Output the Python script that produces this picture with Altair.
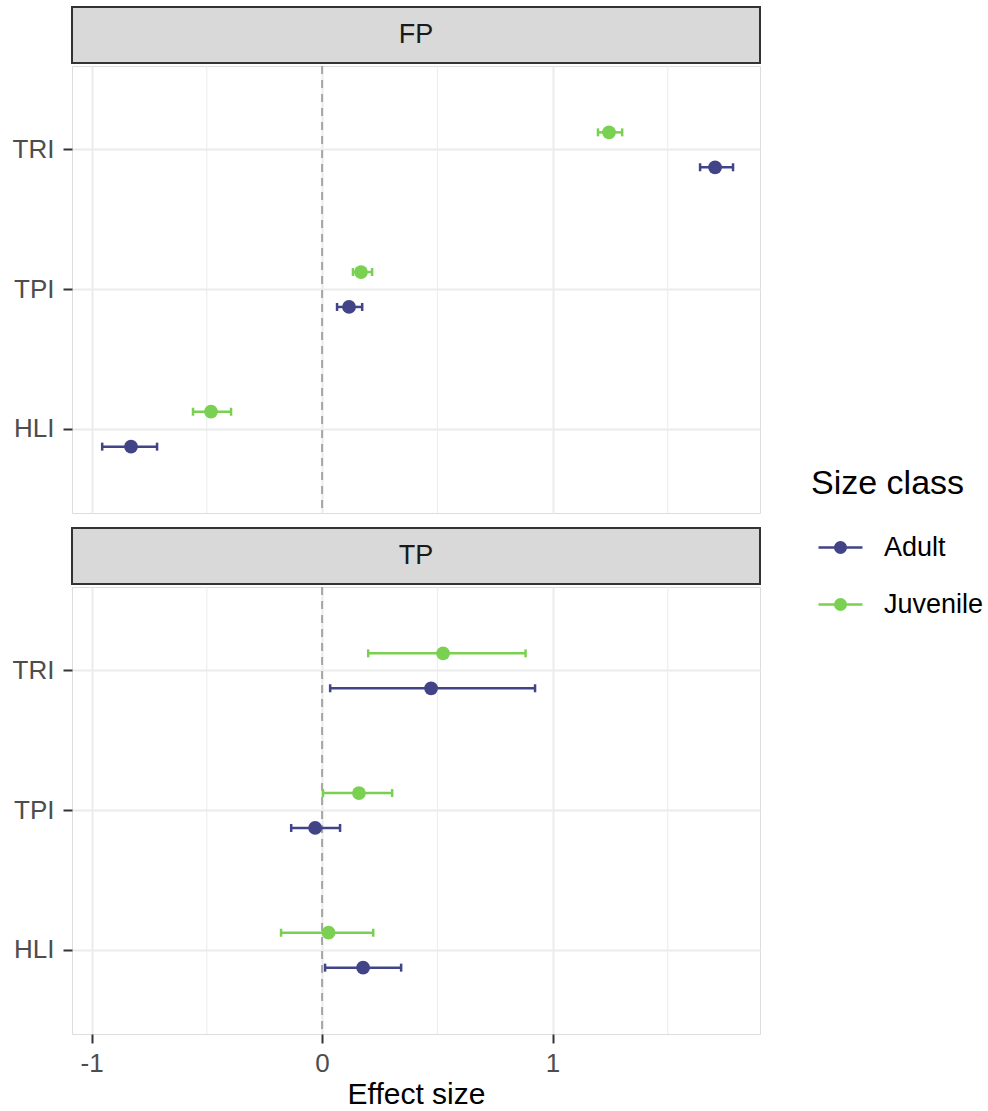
import altair as alt
import pandas as pd

# Effect sizes (with lower / upper interval bounds) per terrain index
indices = ["TRI", "TPI", "HLI"]
size_classes = ["Adult", "Juvenile"]
panels = ["FP", "TP"]

fp_adult_est = [1.705, 0.117, -0.829]
fp_adult_lo = [1.640, 0.065, -0.954]
fp_adult_hi = [1.783, 0.174, -0.716]
fp_juv_est = [1.245, 0.169, -0.482]
fp_juv_lo = [1.197, 0.134, -0.560]
fp_juv_hi = [1.302, 0.217, -0.395]

tp_adult_est = [0.473, -0.030, 0.178]
tp_adult_lo = [0.035, -0.134, 0.013]
tp_adult_hi = [0.924, 0.078, 0.343]
tp_juv_est = [0.525, 0.160, 0.028]
tp_juv_lo = [0.200, 0.004, -0.178]
tp_juv_hi = [0.883, 0.304, 0.222]

major_ticks = [-1, 0, 1]
minor_ticks = [-0.5, 0.5, 1.5]

series = {
    ("FP", "Adult"): (fp_adult_est, fp_adult_lo, fp_adult_hi),
    ("FP", "Juvenile"): (fp_juv_est, fp_juv_lo, fp_juv_hi),
    ("TP", "Adult"): (tp_adult_est, tp_adult_lo, tp_adult_hi),
    ("TP", "Juvenile"): (tp_juv_est, tp_juv_lo, tp_juv_hi),
}
rows = []
for (pan, sc), (est, lo, hi) in series.items():
    for i, idx in enumerate(indices):
        rows.append({"panel": pan, "index": idx, "size": sc,
                     "est": est[i], "lo": lo[i], "hi": hi[i]})
df = pd.DataFrame(rows)

FONT = "Liberation Sans"
PANEL_W = 688
PANEL_H = 447
STRIP_H = 56

x_scale = alt.Scale(domain=[-1.085, 1.9], nice=False, zero=False)
color_scale = alt.Scale(domain=size_classes, range=["#414487", "#7AD151"])

# legend key: horizontal segment with a dot (concentric rings so the dot
# reads as solid when only stroked)
key_path = "M-1,0H1"
for r in [0.04, 0.09, 0.14, 0.19, 0.24]:
    key_path += f"M{r},0A{r},{r} 0 1 1 {-r},0A{r},{r} 0 1 1 {r},0Z"

legend = alt.Legend(
    title="Size class",
    orient="none",
    legendX=739,
    legendY=460,
    titleFontSize=34,
    titleFont=FONT,
    titleFontWeight="normal",
    titleColor="#000000",
    titlePadding=23,
    labelFontSize=27,
    labelFont=FONT,
    labelColor="#000000",
    labelOffset=20,
    symbolType=key_path,
    symbolSize=1936,
    symbolOffset=6,
    symbolStrokeWidth=2.5,
    rowPadding=20,
)
color_leg = alt.Color("size:N", scale=color_scale, legend=legend)
color_noleg = alt.Color("size:N", scale=color_scale, legend=None)


def x_axis(bottom):
    if bottom:
        return alt.Axis(values=major_ticks, grid=True, gridColor="#EBEBEB",
                        gridWidth=2, domain=False, ticks=True, tickSize=9,
                        tickWidth=2, tickColor="#333333", labelFontSize=26,
                        labelFont=FONT, labelColor="#4D4D4D", labelPadding=7,
                        labelExpr="toString(datum.value)",
                        title="Effect size", titleFontSize=30, titleFont=FONT,
                        titleFontWeight="normal", titleColor="#000000",
                        titlePadding=3)
    return alt.Axis(values=major_ticks, grid=True, gridColor="#EBEBEB",
                    gridWidth=2, domain=False, ticks=False, labels=False,
                    title=None)


y_enc = alt.Y(
    "index:N",
    sort=indices,
    scale=alt.Scale(paddingInner=0, paddingOuter=0.1),
    axis=alt.Axis(grid=True, gridColor="#EBEBEB", gridWidth=2, domain=False,
                  tickSize=9, tickWidth=2, tickColor="#333333",
                  labelFontSize=26, labelFont=FONT, labelColor="#4D4D4D",
                  labelPadding=9, minExtent=66, maxExtent=66, title=None),
)
y_off = alt.YOffset(
    "size:N",
    sort=["Juvenile", "Adult"],
    scale=alt.Scale(paddingInner=0, paddingOuter=1),
)


def panel(name, bottom):
    d = df[df["panel"] == name]
    xa = x_axis(bottom)
    minor = alt.Chart(pd.DataFrame({"v": minor_ticks})).mark_rule(
        color="#EBEBEB", strokeWidth=1
    ).encode(x=alt.X("v:Q", scale=x_scale, axis=xa))
    zero = alt.Chart(pd.DataFrame({"v": [0]})).mark_rule(
        color="#A6A6A6", strokeWidth=2, strokeDash=[8, 6]
    ).encode(x=alt.X("v:Q", scale=x_scale, axis=xa))
    bars = alt.Chart(d).mark_rule(strokeWidth=2.5).encode(
        x=alt.X("lo:Q", scale=x_scale, axis=xa), x2="hi:Q",
        y=y_enc, yOffset=y_off, color=color_leg)
    caps = alt.Chart(d).transform_fold(
        ["lo", "hi"], as_=["end", "xv"]
    ).mark_tick(thickness=2.5, size=8, opacity=1).encode(
        x=alt.X("xv:Q", scale=x_scale, axis=xa),
        y=y_enc, yOffset=y_off, color=color_noleg)
    points = alt.Chart(d).mark_circle(size=190, opacity=1).encode(
        x=alt.X("est:Q", scale=x_scale, axis=xa),
        y=y_enc, yOffset=y_off, color=color_noleg)
    return alt.layer(minor, zero, bars, caps, points).properties(
        width=PANEL_W, height=PANEL_H)


def strip(name):
    return alt.Chart(pd.DataFrame({"panel": [name]})).mark_text(
        fontSize=27, font=FONT, color="#1A1A1A"
    ).encode(text="panel:N").properties(
        width=PANEL_W, height=STRIP_H,
        view=alt.ViewBackground(fill="#D9D9D9", stroke="#333333",
                                strokeWidth=2))


top = alt.vconcat(strip("FP"), panel("FP", False), spacing=0)
bottom = alt.vconcat(strip("TP"), panel("TP", True), spacing=0)

chart = alt.vconcat(top, bottom, spacing=12).properties(
    padding={"left": 5, "top": 6, "right": 0, "bottom": 0},
    background="#FFFFFF",
).configure_view(
    stroke="#333333", strokeWidth=2
).configure(font=FONT)

chart.save("out.html", embed_options={"renderer": "svg", "actions": False})
